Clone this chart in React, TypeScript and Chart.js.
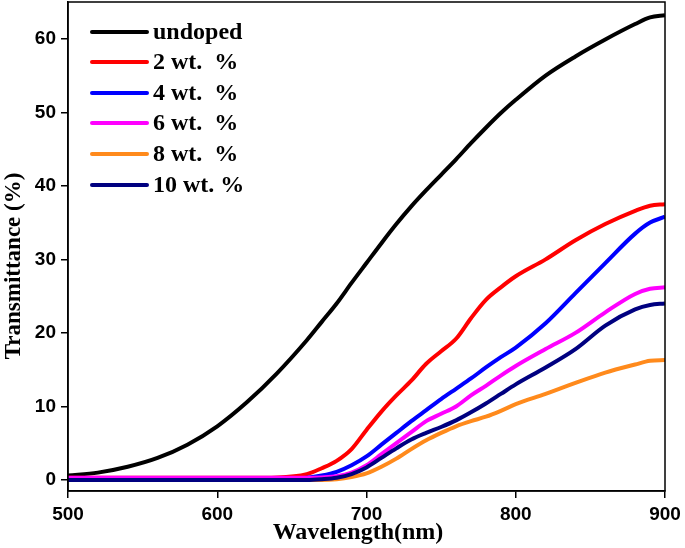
import React, { useEffect, useRef } from "react";
import { Chart, registerables } from "chart.js";

Chart.register(...registerables);

const wavelengths = [500, 520, 540, 560, 580, 600, 620, 640, 660, 670, 680, 690, 700, 710, 720, 730, 740, 750, 760, 770, 780, 790, 800, 820, 840, 860, 880, 890, 900];

const undoped = [0.6, 1.0, 1.8, 3.0, 4.8, 7.3, 10.6, 14.5, 19.0, 21.5, 24.0, 26.8, 29.5, 32.2, 34.8, 37.2, 39.4, 41.5, 43.6, 45.8, 47.9, 49.9, 51.7, 55.0, 57.6, 59.9, 62.0, 62.9, 63.2];
const wt2 = [0.3, 0.3, 0.3, 0.3, 0.3, 0.3, 0.3, 0.35, 0.8, 1.6, 2.6, 4.2, 6.8, 9.3, 11.5, 13.5, 15.8, 17.5, 19.2, 22.0, 24.5, 26.2, 27.7, 30.0, 32.6, 34.8, 36.6, 37.3, 37.5];
const wt4 = [0.1, 0.1, 0.1, 0.1, 0.1, 0.1, 0.1, 0.12, 0.3, 0.6, 1.1, 2.0, 3.2, 4.8, 6.4, 8.0, 9.5, 11.0, 12.4, 13.8, 15.3, 16.7, 18.0, 21.3, 25.4, 29.5, 33.5, 35.0, 35.8];
const wt6 = [0.3, 0.3, 0.3, 0.3, 0.3, 0.3, 0.3, 0.3, 0.3, 0.35, 0.5, 1.0, 2.0, 3.5, 5.0, 6.5, 8.0, 9.0, 10.0, 11.5, 12.8, 14.2, 15.5, 17.8, 20.0, 22.8, 25.3, 26.0, 26.2];
const wt8 = [0.0, 0.0, 0.0, 0.0, 0.0, 0.0, 0.0, 0.0, 0.0, 0.0, 0.1, 0.4, 0.9, 1.8, 2.9, 4.2, 5.4, 6.4, 7.3, 8.0, 8.6, 9.4, 10.3, 11.7, 13.2, 14.6, 15.7, 16.2, 16.3];
const wt10 = [0.0, 0.0, 0.0, 0.0, 0.0, 0.0, 0.0, 0.0, 0.0, 0.1, 0.3, 0.8, 1.7, 3.0, 4.3, 5.5, 6.4, 7.2, 8.1, 9.2, 10.4, 11.7, 13.0, 15.3, 17.8, 21.0, 23.2, 23.8, 24.0];

const seriesLabels = ["undoped", "2 wt.  %", "4 wt.  %", "6 wt.  %", "8 wt.  %", "10 wt. %"];
const seriesColors = ["#000000", "#ff0000", "#0000ff", "#ff00ff", "#ff8a1c", "#000080"];
const seriesValues = [undoped, wt2, wt4, wt6, wt8, wt10];

const xTicks = [500, 600, 700, 800, 900];
const yTicks = [0, 10, 20, 30, 40, 50, 60];

const xTitle = "Wavelength(nm)";
const yTitle = "Transmittance (%)";

const SERIF = "'Liberation Serif', 'Times New Roman', serif";
const SANS = "'Liberation Sans', Arial, sans-serif";

export default function App() {
  const ref = useRef<HTMLCanvasElement | null>(null);

  useEffect(() => {
    if (!ref.current) return;

    const decor = {
      id: "decor",
      afterDatasetsDraw(chart: any) {
        const ctx = chart.ctx;
        const a = chart.chartArea;
        ctx.save();
        // frame
        ctx.strokeStyle = "#000";
        ctx.lineWidth = 1.5;
        ctx.strokeRect(a.left, a.top, a.right - a.left, a.bottom - a.top);
        // legend
        const rows = [32, 62, 93, 123, 154, 185];
        ctx.font = `bold 24px ${SERIF}`;
        ctx.textBaseline = "middle";
        ctx.textAlign = "left";
        seriesLabels.forEach((lab, i) => {
          const y = rows[i];
          ctx.strokeStyle = seriesColors[i];
          ctx.lineWidth = 4;
          ctx.lineCap = "round";
          ctx.beginPath();
          ctx.moveTo(92, y);
          ctx.lineTo(147, y);
          ctx.stroke();
          ctx.fillStyle = "#000";
          ctx.fillText(lab, 153, y + 1);
        });
        // titles
        ctx.fillStyle = "#000";
        ctx.font = `bold 24px ${SERIF}`;
        ctx.textAlign = "center";
        ctx.textBaseline = "middle";
        ctx.fillText(xTitle, 358, 533);
        ctx.save();
        ctx.translate(14, 266);
        ctx.rotate(-Math.PI / 2);
        ctx.font = `bold 23px ${SERIF}`;
        ctx.fillText(yTitle, 0, 0);
        ctx.restore();
        ctx.restore();
      },
    };

    const chart = new Chart(ref.current, {
      type: "line",
      data: {
        datasets: seriesValues.map((vals, i) => ({
          label: seriesLabels[i],
          data: wavelengths.map((w, j) => ({ x: w, y: vals[j] })),
          borderColor: seriesColors[i],
          backgroundColor: seriesColors[i],
          borderWidth: 4,
          pointRadius: 0,
          cubicInterpolationMode: "monotone",
          fill: false,
          order: 5 - i,
        })),
      },
      options: {
        responsive: false,
        animation: false,
        layout: { padding: { top: 2, right: 20, left: 0, bottom: 0 } },
        plugins: { legend: { display: false }, tooltip: { enabled: false } },
        scales: {
          x: {
            type: "linear",
            min: 500,
            max: 900,
            afterBuildTicks: (s: any) => {
              s.ticks = xTicks.map((v) => ({ value: v }));
            },
            afterFit: (s: any) => {
              s.height = 57;
              s.paddingLeft = 0;
              s.paddingRight = 0;
            },
            grid: { display: true, drawOnChartArea: false, drawTicks: true, tickLength: 7, color: "#000", lineWidth: 1.5 },
            border: { display: true, color: "#000", width: 1.5 },
            ticks: { color: "#000", padding: 5, maxRotation: 0, font: { family: SANS, weight: "bold", size: 19 } },
            title: { display: false },
          },
          y: {
            type: "linear",
            min: -1.5,
            max: 65,
            afterBuildTicks: (s: any) => {
              s.ticks = yTicks.map((v) => ({ value: v }));
            },
            afterFit: (s: any) => {
              s.width = 68;
              s.paddingTop = 0;
              s.paddingBottom = 0;
            },
            grid: { display: true, drawOnChartArea: false, drawTicks: true, tickLength: 7, color: "#000", lineWidth: 1.5 },
            border: { display: true, color: "#000", width: 1.5 },
            ticks: { color: "#000", padding: 5, font: { family: SANS, weight: "bold", size: 19 } },
            title: { display: false },
          },
        },
      },
      plugins: [decor],
    } as any);

    return () => chart.destroy();
  }, []);

  return (
    <div style={{ position: "absolute", left: 0, top: 0, width: 685, height: 548, background: "#fff" }}>
      <canvas ref={ref} width={685} height={548} style={{ width: 685, height: 548 }} />
    </div>
  );
}
